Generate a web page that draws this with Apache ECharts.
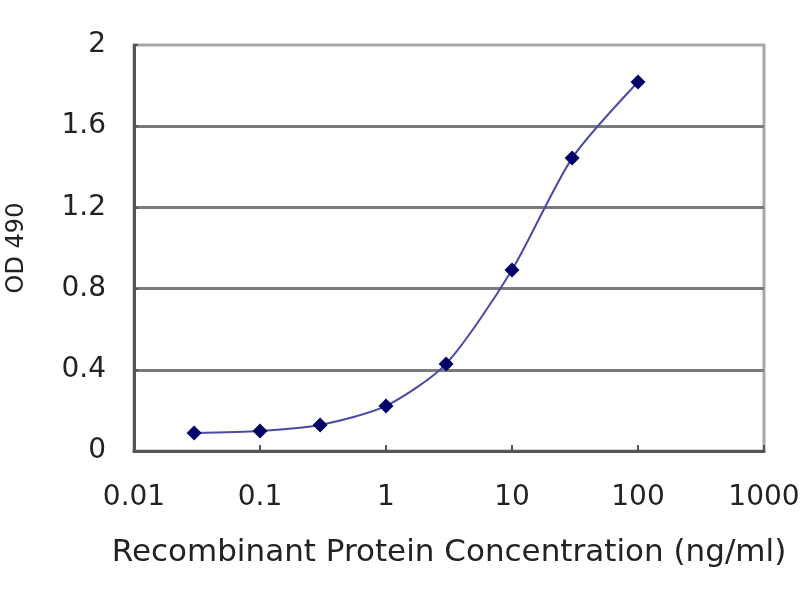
<!DOCTYPE html>
<html>
<head>
<meta charset="utf-8">
<script src="https://cdn.jsdelivr.net/npm/echarts@6/dist/echarts.min.js"></script>
<style>html,body{margin:0;padding:0;background:#fff}#c{width:800px;height:600px}</style>
</head>
<body>
<div id="c"></div>
<script>
const concentrations = [0.03, 0.1, 0.3, 1, 3, 10, 30, 100];
const od490 = [0.089, 0.099, 0.128, 0.222, 0.429, 0.892, 1.443, 1.818];
const xTickLabels = ['0.01', '0.1', '1', '10', '100', '1000'];
const yTickLabels = ['0', '0.4', '0.8', '1.2', '1.6', '2'];
const xTitle = 'Recombinant Protein Concentration (ng/ml)';
const yTitle = 'OD 490';

const chart = echarts.init(document.getElementById('c'));
const font = 'DejaVu Sans';
chart.setOption({
  animation: false,
  backgroundColor: '#ffffff',
  grid: {
    left: 134, right: 36, top: 45, bottom: 149,
    containLabel: false, outerBoundsMode: 'none',
    show: true, borderColor: '#a8a8a8', borderWidth: 3, backgroundColor: 'transparent'
  },
  xAxis: {
    type: 'log', logBase: 10, min: 0.01, max: 1000,
    name: xTitle, nameLocation: 'middle', nameGap: 86,
    nameTextStyle: { fontFamily: font, fontSize: 31, color: '#222' },
    axisLine: { show: true, lineStyle: { color: '#555', width: 3 } },
    axisTick: { show: true, inside: true, length: 6, lineStyle: { color: '#555', width: 2 } },
    axisLabel: {
      margin: 33, fontFamily: font, fontSize: 28, color: '#222',
      formatter: function (v) {
        const idx = Math.round(Math.log10(v) + 2);
        return xTickLabels[idx] !== undefined ? xTickLabels[idx] : '';
      }
    },
    splitLine: { show: false }
  },
  yAxis: {
    type: 'value', min: 0, max: 2, interval: 0.4,
    name: yTitle, nameLocation: 'middle', nameGap: 105, nameRotate: 90,
    nameTextStyle: { fontFamily: font, fontSize: 24, color: '#222' },
    axisLine: { show: true, lineStyle: { color: '#555', width: 3 } },
    axisTick: { show: true, inside: true, length: 4, lineStyle: { color: '#555', width: 2 } },
    axisLabel: {
      margin: 28, fontFamily: font, fontSize: 28, color: '#222',
      formatter: function (v) {
        const idx = Math.round(v / 0.4);
        return yTickLabels[idx] !== undefined ? yTickLabels[idx] : '';
      }
    },
    splitLine: { show: true, showMaxLine: false, lineStyle: { color: '#7a7a7a', width: 3 } }
  },
  series: [{
    type: 'line',
    data: concentrations.map((c, i) => [c, od490[i]]),
    smooth: 0.25,
    symbol: 'diamond',
    symbolSize: 15,
    itemStyle: { color: '#000066' },
    lineStyle: { color: '#4a4aa6', width: 2 }
  }]
});
</script>
</body>
</html>
